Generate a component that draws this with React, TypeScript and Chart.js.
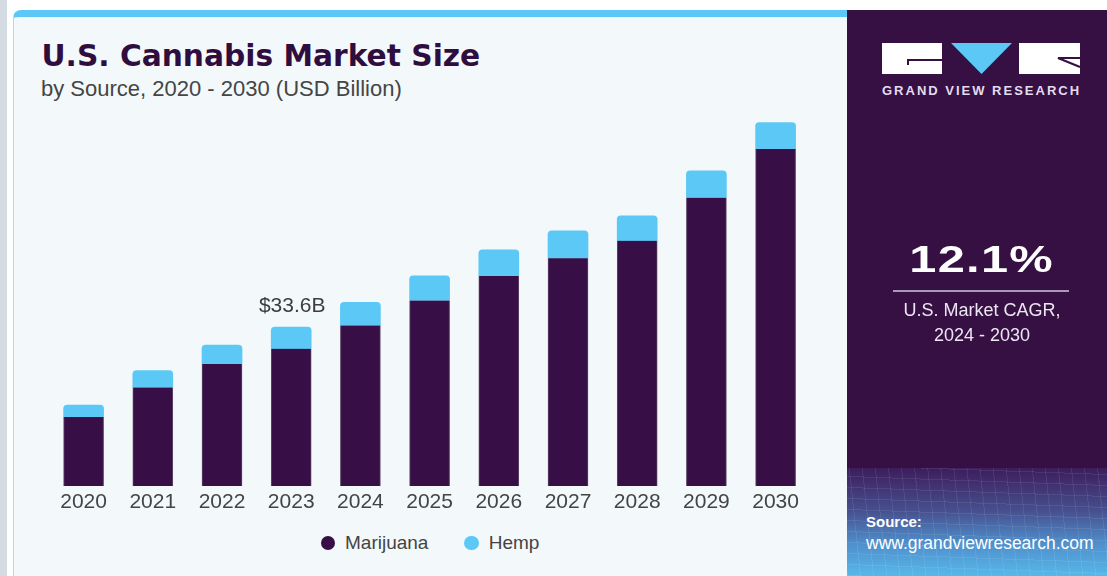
import React, { useEffect, useRef } from "react";
import { Chart, registerables } from "chart.js";

Chart.register(...registerables);

const categories = ["2020", "2021", "2022", "2023", "2024", "2025", "2026", "2027", "2028", "2029", "2030"];
const marijuana = [14.6, 20.8, 25.8, 29.0, 33.9, 39.2, 44.4, 48.1, 51.8, 60.9, 71.2];
const hemp = [2.5, 3.6, 4.0, 4.6, 4.9, 5.2, 5.5, 5.8, 5.3, 5.7, 5.6];
const seriesNames = ["Marijuana", "Hemp"];
const annotationIndex = 3;
const annotationText = "$33.6B";
const yMax = 80;

const PURPLE = "#370f46";
const BLUE = "#5bc8f5";
const SANS = "'Liberation Sans', Arial, sans-serif";
const HEAVY = "'DejaVu Sans', sans-serif";

const labelPlugin = {
  id: "valueLabel",
  afterDatasetsDraw(chart: any) {
    const meta = chart.getDatasetMeta(1);
    const el = meta.data[annotationIndex];
    if (!el) return;
    const ctx = chart.ctx;
    ctx.save();
    ctx.font = `21px ${SANS}`;
    ctx.fillStyle = "#3d3d3d";
    ctx.textAlign = "center";
    ctx.textBaseline = "alphabetic";
    ctx.fillText(annotationText, el.x + 1, el.y - 15);
    ctx.restore();
  },
};

function BarChart() {
  const ref = useRef<HTMLCanvasElement>(null);
  useEffect(() => {
    if (!ref.current) return;
    const chart = new Chart(ref.current, {
      type: "bar",
      data: {
        labels: categories,
        datasets: [
          {
            label: seriesNames[0],
            data: marijuana,
            backgroundColor: PURPLE,
            borderColor: "#5d4468",
            borderWidth: { left: 1, right: 1, top: 0, bottom: 0 } as any,
            borderSkipped: false,
            barThickness: 40,
          },
          {
            label: seriesNames[1],
            data: hemp,
            backgroundColor: BLUE,
            borderWidth: 0,
            borderRadius: { topLeft: 4, topRight: 4, bottomLeft: 0, bottomRight: 0 },
            borderSkipped: false,
            barThickness: 40,
          },
        ],
      },
      options: {
        animation: false,
        responsive: false,
        maintainAspectRatio: false,
        layout: { padding: { left: 35, right: 35.8, top: 90.4, bottom: 0 } },
        plugins: {
          legend: { display: false },
          tooltip: { enabled: false },
        },
        scales: {
          x: {
            stacked: true,
            grid: { display: false, drawTicks: false },
            border: { display: false },
            ticks: {
              padding: 4,
              color: "#444",
              font: { size: 21, family: SANS },
            },
            afterFit: (scale: any) => {
              scale.height = 40;
            },
          },
          y: {
            stacked: true,
            display: false,
            min: 0,
            max: yMax,
          },
        },
      },
      plugins: [labelPlugin],
    });
    return () => chart.destroy();
  }, []);
  return (
    <canvas
      ref={ref}
      width={832}
      height={509}
      style={{ position: "absolute", left: 14, top: 17, width: 832, height: 509 }}
    />
  );
}

export default function App() {
  const abs = (s: React.CSSProperties): React.CSSProperties => ({ position: "absolute", ...s });
  const legendColors = [PURPLE, BLUE];
  const legendX = [328, 471.7];
  return (
    <div style={abs({ left: 0, top: 0, width: 1107, height: 576, background: "#ffffff", overflow: "hidden", fontFamily: SANS })}>
      <div style={abs({ left: 0, top: 0, width: 7, height: 576, background: "#d4dbe3" })} />
      {/* card */}
      <div
        style={abs({
          left: 13,
          top: 10,
          width: 840,
          height: 580,
          background: "#f3f8fb",
          borderTop: `7px solid ${BLUE}`,
          borderLeft: "1px solid #c9d1d9",
          borderTopLeftRadius: 8,
          boxSizing: "border-box",
        })}
      />
      <div style={abs({ left: 41.5, top: 40.8, fontFamily: HEAVY, fontWeight: 700, fontSize: 29.7, lineHeight: "29.7px", color: "#2f0d3f", whiteSpace: "nowrap" })}>
        U.S. Cannabis Market Size
      </div>
      <div style={abs({ left: 41, top: 78.1, fontSize: 22, lineHeight: "22px", color: "#454545", whiteSpace: "nowrap" })}>
        by Source, 2020 - 2030 (USD Billion)
      </div>
      <BarChart />
      {/* legend */}
      {seriesNames.map((n, i) => (
        <React.Fragment key={n}>
          <div style={abs({ left: legendX[i] - 7.3, top: 543 - 7.3, width: 14.6, height: 14.6, borderRadius: "50%", background: legendColors[i] })} />
          <div style={abs({ left: legendX[i] + 17, top: 533.2, fontSize: 19, lineHeight: "19px", color: "#444", whiteSpace: "nowrap" })}>{n}</div>
        </React.Fragment>
      ))}
      {/* right panel */}
      <div style={abs({ left: 847, top: 10, width: 260, height: 566, background: "#361043" })} />
      <div
        style={abs({
          left: 847,
          top: 468,
          width: 260,
          height: 108,
          background:
            "repeating-linear-gradient(84deg, rgba(255,255,255,0.08) 0px, rgba(255,255,255,0.08) 1px, transparent 1px, transparent 13px), repeating-linear-gradient(2deg, rgba(255,255,255,0.08) 0px, rgba(255,255,255,0.08) 1px, transparent 1px, transparent 11px), linear-gradient(180deg, #3d1d5c 0%, #47508f 40%, #4f8fcc 70%, #57b8ea 100%)",
        })}
      />
      <svg style={abs({ left: 847, top: 10 })} width={260} height={100}>
        <rect x={35} y={33} width={60} height={31} fill="#ffffff" />
        <polyline points="95,50 61,50 61,55" fill="none" stroke="#361043" strokeWidth={2} />
        <polygon points="104,33 165,33 134.5,64" fill={BLUE} />
        <rect x={172} y={33} width={61} height={31} fill="#ffffff" />
        <polyline points="233,48 211,48 233,57" fill="none" stroke="#361043" strokeWidth={2} />
      </svg>
      <div style={abs({ left: 882, top: 84, fontSize: 13, lineHeight: "13px", fontWeight: 700, letterSpacing: 2, color: "#e4dcee", whiteSpace: "nowrap" })}>
        GRAND VIEW RESEARCH
      </div>
      <div style={abs({ left: 853, width: 260, top: 241, textAlign: "center", fontWeight: 700, fontSize: 37.5, lineHeight: "37.5px", letterSpacing: 1, color: "#ffffff", whiteSpace: "nowrap", transform: "scaleX(1.3)", transformOrigin: "134.5px 0px" })}>
        12.1%
      </div>
      <div style={abs({ left: 893, top: 290, width: 176, height: 2, background: "#a999b8" })} />
      <div style={abs({ left: 847, width: 270, top: 298.3, textAlign: "center", fontSize: 18, lineHeight: "25px", color: "#ece6f2", whiteSpace: "nowrap" })}>
        U.S. Market CAGR,
        <br />
        2024 - 2030
      </div>
      <div style={abs({ left: 866, top: 514, fontSize: 15, lineHeight: "15px", fontWeight: 700, color: "#ffffff", whiteSpace: "nowrap" })}>Source:</div>
      <div style={abs({ left: 866, top: 535, fontSize: 17.5, lineHeight: "17.5px", color: "#ffffff", whiteSpace: "nowrap" })}>www.grandviewresearch.com</div>
    </div>
  );
}
